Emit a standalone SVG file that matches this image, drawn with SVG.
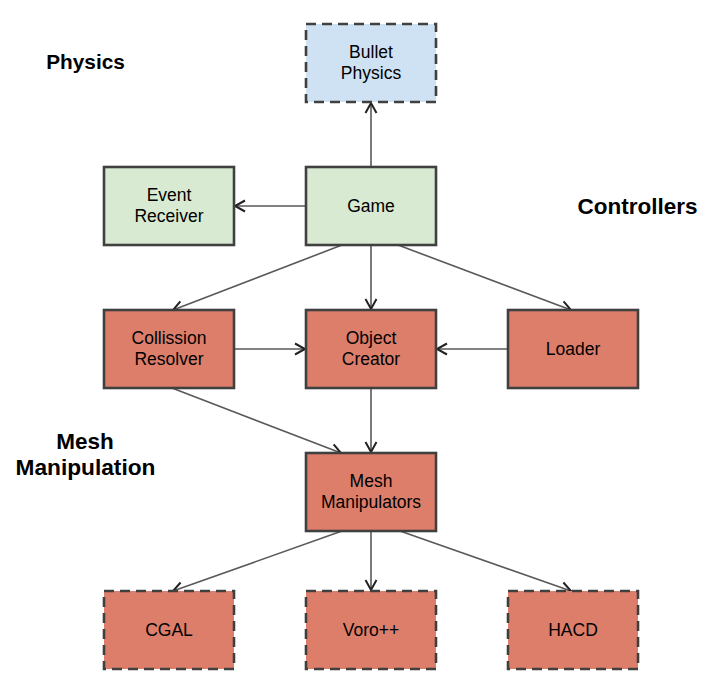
<svg xmlns="http://www.w3.org/2000/svg" width="716" height="687" viewBox="0 0 716 687">
<style>
.box{stroke:#404040;stroke-width:2.6}
.dash{stroke-dasharray:10,6}
.green{fill:#d9ead3}
.blue{fill:#cfe2f3}
.red{fill:#dd7e6b}
.t{font-family:"Liberation Sans",Arial,sans-serif;font-size:17.5px;fill:#000;text-anchor:middle}
.h{font-family:"Liberation Sans",Arial,sans-serif;font-weight:bold;fill:#000;text-anchor:middle}
.c{stroke:#595959;stroke-width:1.6;fill:none;marker-end:url(#arr)}
</style>
<defs>
<marker id="arr" markerUnits="userSpaceOnUse" markerWidth="14" markerHeight="14" refX="11" refY="7" orient="auto">
<path d="M1,1.5 L11,7 L1,12.5" fill="none" stroke="#222" stroke-width="2"/>
</marker>
</defs>
<rect width="716" height="687" fill="#fff"/>
<text class="h" x="85.5" y="69" font-size="20.8">Physics</text>
<text class="h" x="637.5" y="214" font-size="22.5">Controllers</text>
<text class="h" x="85" y="449" font-size="22.5">Mesh</text>
<text class="h" x="85.5" y="475" font-size="22.7">Manipulation</text>
<g id="connectors">
<line class="c" x1="371" y1="167" x2="371" y2="103"/>
<line class="c" x1="306" y1="206" x2="235" y2="206"/>
<line class="c" x1="342" y1="245" x2="173" y2="310"/>
<line class="c" x1="371" y1="245" x2="371" y2="309"/>
<line class="c" x1="398" y1="245" x2="571" y2="310"/>
<line class="c" x1="234" y1="349" x2="305" y2="349"/>
<line class="c" x1="508" y1="349" x2="437" y2="349"/>
<line class="c" x1="172" y1="388" x2="341" y2="453"/>
<line class="c" x1="371" y1="388" x2="371" y2="452"/>
<line class="c" x1="342" y1="531" x2="173" y2="591"/>
<line class="c" x1="371" y1="531" x2="371" y2="590"/>
<line class="c" x1="400" y1="531" x2="571" y2="591"/>
</g>
<g id="bullet"><rect class="box dash blue" x="306" y="24" width="130" height="78"/><text class="t" x="371" y="58">Bullet</text><text class="t" x="371" y="79">Physics</text></g>
<g id="event"><rect class="box green" x="104" y="167" width="130" height="78"/><text class="t" x="169" y="201">Event</text><text class="t" x="169" y="222">Receiver</text></g>
<g id="game"><rect class="box green" x="306" y="167" width="130" height="78"/><text class="t" x="371" y="212">Game</text></g>
<g id="collision"><rect class="box red" x="104" y="310" width="130" height="78"/><text class="t" x="169" y="344">Collission</text><text class="t" x="169" y="365">Resolver</text></g>
<g id="creator"><rect class="box red" x="306" y="310" width="130" height="78"/><text class="t" x="371" y="344">Object</text><text class="t" x="371" y="365">Creator</text></g>
<g id="loader"><rect class="box red" x="508" y="310" width="130" height="78"/><text class="t" x="573" y="355">Loader</text></g>
<g id="mesh"><rect class="box red" x="306" y="453" width="130" height="78"/><text class="t" x="371" y="487">Mesh</text><text class="t" x="371" y="508">Manipulators</text></g>
<g id="cgal"><rect class="box dash red" x="104" y="591" width="130" height="78"/><text class="t" x="169" y="636">CGAL</text></g>
<g id="voro"><rect class="box dash red" x="306" y="591" width="130" height="78"/><text class="t" x="371" y="636">Voro++</text></g>
<g id="hacd"><rect class="box dash red" x="508" y="591" width="130" height="78"/><text class="t" x="573" y="636">HACD</text></g>
</svg>
